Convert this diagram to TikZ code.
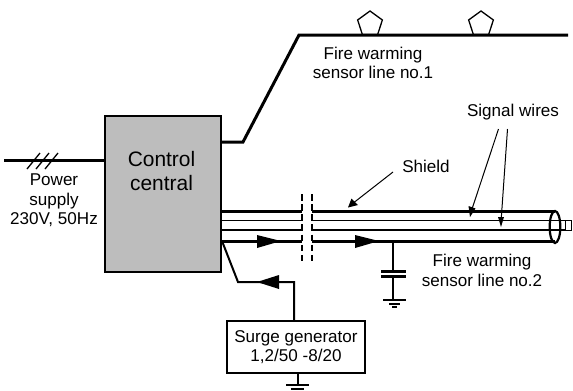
\documentclass[tikz,border=0pt]{standalone}
\usepackage{fontspec}
\setmainfont{Liberation Sans}
\usetikzlibrary{shapes.geometric}
\tikzset{
  thick wire/.style={line width=3pt*0.75},
  wire/.style={line width=2pt*0.75},
  thin wire/.style={line width=1.3pt*0.75},
  lbl/.style={inner sep=0pt,align=center,font=\fontsize{12.8}{14.5}\selectfont},
  tip/.style={fill=black,draw=none},
  brk/.style={line width=1.4pt*0.75,dash pattern=on 5pt off 2.6pt},
  sensor/.style={regular polygon,regular polygon sides=5,draw=black,line width=1.3pt*0.75,minimum size=19.5pt,inner sep=0pt}
}
\begin{document}
\begin{tikzpicture}[x=0.75pt,y=-0.75pt]
\useasboundingbox (0,0) rectangle (573,390);
% control box
\node[draw=black,fill=black!26,line width=2.5pt*0.75,minimum width=87pt,minimum height=117pt,inner sep=0pt] (ctrl) at (163,194) {};
\node[inner sep=0pt,align=center,font=\fontsize{15.7}{18}\selectfont] (ctrltxt) at (161.5,171) {Control\\central};
% power
\coordinate (pw) at (4,160.6);
\draw[thick wire] (pw) -- (pw-|ctrl.west);
\foreach \x in {30,39,48} \draw[thin wire] (\x-3,169) -- (\x+10,153);
\node[lbl] (pwl) at (54,200.5) {Power\\supply\\230V, 50Hz};
% line 1
\coordinate (a1) at (221,142); \coordinate (a2) at (243,142); \coordinate (a3) at (299,35); \coordinate (a4) at (568,35);
\draw[thick wire,line join=miter] (a1) -- (a2) -- (a3) -- (a4);
\node[sensor] (s1) at (370,24) {};
\node[sensor] (s2) at (481,24) {};
\node[lbl] (l1) at (373,63) {Fire warming\\sensor line no.1};
% cable
\draw[thick wire] (221,211.6) -- (302,211.6) (312,211.6) -- (555,211.6);
\draw[thick wire] (221,241.4) -- (302,241.4) (312,241.4) -- (555,241.4);
\draw[thin wire] (221,220.5) -- (302,220.5) (312,220.5) -- (566,220.5);
\draw[thin wire] (221,230) -- (302,230) (312,230) -- (566,230);
\draw[brk] (302,194) -- (302,263);
\draw[brk] (312,194) -- (312,263);
\node[draw=black,line width=2.2pt*0.75,ellipse,minimum width=8pt,minimum height=24pt,inner sep=0pt] (end) at (555,227) {};
\node[draw=black,line width=1pt*0.75,minimum width=4pt,minimum height=7.5pt,inner sep=0pt] (stub) at (568.5,225) {};
\fill[tip] (257,235) -- (281,241) -- (257,248) -- cycle;
\fill[tip] (355,235) -- (379,241) -- (355,248) -- cycle;
% capacitor
\coordinate (c0) at (393,241); \coordinate (c1) at (393,271); \coordinate (c2) at (393,276); \coordinate (c3) at (393,300);
\draw[wire] (c0) -- (c1) (c2) -- (c3);
\draw[thick wire] (381,271) -- (406,271) (381,276) -- (406,276);
\draw[wire] (383,300) -- (406,300);
\draw[wire] (389,304) -- (400,304);
\draw[wire] (392,307) -- (397,307);
\node[lbl] (l2) at (482,270.5) {Fire warming\\sensor line no.2};
% surge
\node[draw=black,fill=white,line width=2.2pt*0.75,minimum width=103pt,minimum height=39pt,inner sep=0pt,align=center,font=\fontsize{12.8}{14.5}\selectfont] (surge) at (296,347) {Surge generator\\1,2/50 -8/20};
\coordinate (d1) at (294,282); \coordinate (d2) at (238,282); \coordinate (d3) at (222,241);
\draw[wire] (surge.north-|d1) -- (d1) -- (d2) -- (d3);
\fill[tip] (279,275) -- (257,282) -- (279,289) -- cycle;
\coordinate (g1) at (298,385);
\draw[wire] (surge.south-|g1) -- (g1);
\draw[wire] (286,385) -- (309,385);
\draw[wire] (291,389) -- (304,389);
% labels with arrows
\node[lbl] (shield) at (426,166.5) {Shield};
\coordinate (sh0) at (393,172); \coordinate (sh1) at (352,204);
\draw[line width=1pt*0.75] (sh0) -- (sh1);
\fill[tip] (348,207.5) -- (351.5,198.5) -- (358,205) -- cycle;
\node[lbl] (sig) at (513,112) {Signal wires};
\coordinate (w0) at (498.5,129); \coordinate (w1) at (471,212);
\coordinate (w2) at (507.5,129); \coordinate (w3) at (501,222);
\draw[line width=1pt*0.75] (w0) -- (w1) (w2) -- (w3);
\fill[tip] (470,217) -- (468.5,206) -- (475.5,208.5) -- cycle;
\fill[tip] (501,227) -- (498,217) -- (504,217) -- cycle;
\end{tikzpicture}
\end{document}
